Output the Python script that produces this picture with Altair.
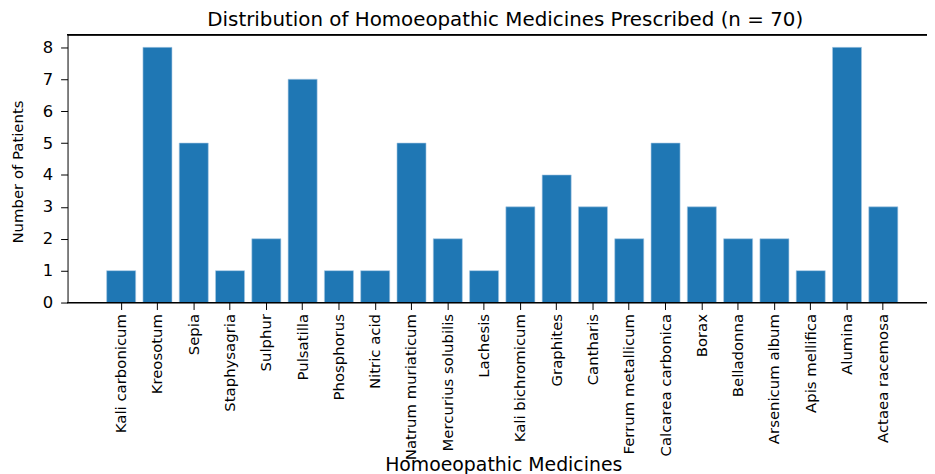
import altair as alt
import pandas as pd

medicines = ["Kali carbonicum", "Kreosotum", "Sepia", "Staphysagria", "Sulphur", "Pulsatilla",
             "Phosphorus", "Nitric acid", "Natrum muriaticum", "Mercurius solubilis", "Lachesis",
             "Kali bichromicum", "Graphites", "Cantharis", "Ferrum metallicum", "Calcarea carbonica",
             "Borax", "Belladonna", "Arsenicum album", "Apis mellifica", "Alumina", "Actaea racemosa"]
patients = [1, 8, 5, 1, 2, 7, 1, 1, 5, 2, 1, 3, 4, 3, 2, 5, 3, 2, 2, 1, 8, 3]
y_ticks = [0, 1, 2, 3, 4, 5, 6, 7, 8]

df = pd.DataFrame({"Medicine": medicines, "Patients": patients})

W, H = 866, 270
FONT = "DejaVu Sans"

bars = alt.Chart(df).mark_bar(color="#1f77b4", stroke="#a9c9e4", strokeWidth=0.6).encode(
    x=alt.X("Medicine:N", sort=medicines,
            scale=alt.Scale(range=[39.4, 836.6], paddingInner=0.2, paddingOuter=0),
            axis=alt.Axis(title="Homoeopathic Medicines", labelAngle=270, labelAlign="right",
                          labelBaseline="middle", labelFontSize=15, labelFont=FONT,
                          labelColor="black", labelPadding=4, domain=False,
                          tickColor="black", tickSize=7,
                          titleFont=FONT, titleFontSize=19, titleFontWeight="normal",
                          titleColor="black", titleBaseline="alphabetic",
                          titleX=439, titleY=169, titleAnchor="middle")),
    y=alt.Y("Patients:Q", scale=alt.Scale(domain=[0, 8.4], nice=False),
            axis=alt.Axis(title="Number of Patients", values=y_ticks, format="d",
                          labelFontSize=16.5, labelFont=FONT, labelColor="black", labelPadding=8,
                          tickColor="black", tickSize=7, domainColor="black", grid=False,
                          titleFont=FONT, titleFontSize=15, titleFontWeight="normal",
                          titleColor="black", titleAngle=270, titleBaseline="middle",
                          titleX=-50, titleY=138, titleAnchor="middle")),
)

top_spine = alt.Chart(df).mark_rule(color="black", strokeWidth=1).encode(
    x=alt.value(0), x2=alt.value(W), y=alt.value(0)
)
bottom_spine = alt.Chart(df).mark_rule(color="black", strokeWidth=1).encode(
    x=alt.value(0), x2=alt.value(W), y=alt.value(H)
)

chart = alt.layer(bars, top_spine, bottom_spine).properties(
    width=W, height=H,
    title=alt.TitleParams("Distribution of Homoeopathic Medicines Prescribed (n = 70)",
                          font=FONT, fontSize=20, fontWeight="normal", color="black",
                          offset=4, anchor="middle", dx=8),
    autosize=alt.AutoSizeParams(type="none"),
    padding={"left": 60, "top": 25, "right": 0, "bottom": 174},
).configure_view(stroke=None)

chart.save("out.html", embed_options={"renderer": "svg", "actions": False})
